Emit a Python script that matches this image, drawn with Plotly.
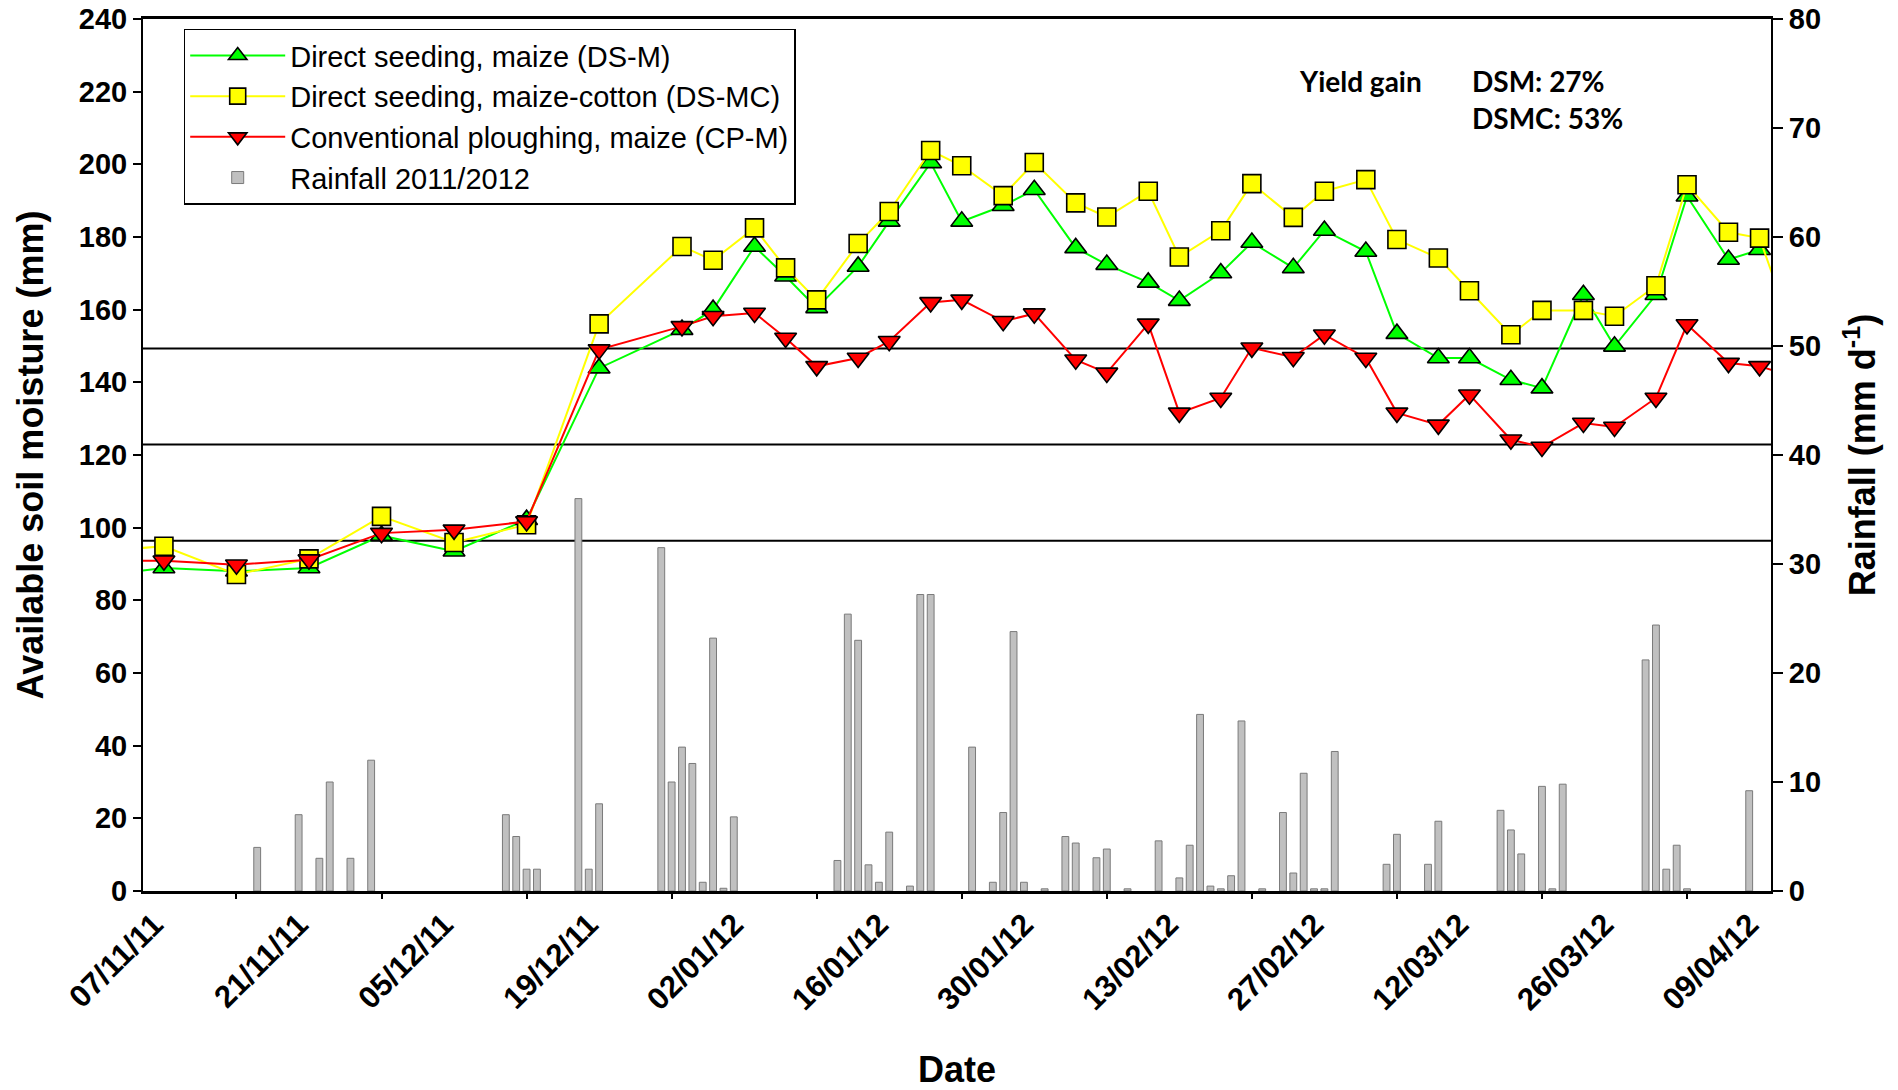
import plotly.graph_objects as go

# ---------------- data ----------------
dates = ["2011-10-31", "2011-11-07", "2011-11-14", "2011-11-21", "2011-11-28", "2011-12-05",
         "2011-12-12", "2011-12-19", "2011-12-27", "2011-12-30", "2012-01-03", "2012-01-06",
         "2012-01-09", "2012-01-13", "2012-01-16", "2012-01-20", "2012-01-23", "2012-01-27",
         "2012-01-30", "2012-02-03", "2012-02-06", "2012-02-10", "2012-02-13", "2012-02-17",
         "2012-02-20", "2012-02-24", "2012-02-27", "2012-03-02", "2012-03-05", "2012-03-09",
         "2012-03-12", "2012-03-16", "2012-03-19", "2012-03-23", "2012-03-26", "2012-03-30",
         "2012-04-02", "2012-04-06", "2012-04-09", "2012-04-13"]

ds_m = [86.5, 88.9, 88.0, 88.9, 97.8, 93.5, 102.2, 143.9, 154.5, 160.0, 177.4, 169.2,
        160.5, 171.9, 184.3, 200.4, 184.3, 188.6, 193.0, 177.0, 172.4, 167.5, 162.5, 170.1,
        178.5, 171.5, 181.8, 176.0, 153.4, 146.7, 146.7, 140.7, 138.4, 164.1, 149.9, 164.1,
        191.2, 173.8, 176.5, None]

ds_mc = [93.3, 94.9, 87.1, 91.4, 103.1, 95.9, 100.8, 156.1, 177.4, 173.6, 182.5, 171.5,
         162.7, 178.2, 187.0, 203.8, 199.6, 191.4, 200.5, 189.4, 185.5, 192.6, 174.5, 181.7,
         194.7, 185.4, 192.6, 195.8, 179.3, 174.2, 165.2, 153.1, 159.8, 159.8, 158.2, 166.6,
         194.4, 181.3, 179.7, 147.5]

cp_m = [90.9, 90.9, 89.8, 91.2, 98.5, 99.4, 101.7, 149.0, 155.4, 158.2, 159.1, 152.2,
        144.4, 146.7, 151.3, 162.0, 162.7, 156.8, 158.9, 146.2, 142.6, 156.1, 131.6, 135.7,
        149.5, 146.9, 153.1, 146.7, 131.6, 128.3, 136.6, 124.2, 122.2, 128.8, 127.7, 135.7,
        155.9, 145.3, 144.4, 141.0]

rain_dates = ["2011-11-16", "2011-11-20", "2011-11-22", "2011-11-23", "2011-11-25", "2011-11-27",
              "2011-12-10", "2011-12-11", "2011-12-12", "2011-12-13", "2011-12-17", "2011-12-18",
              "2011-12-19", "2011-12-25", "2011-12-26", "2011-12-27", "2011-12-28", "2011-12-29",
              "2011-12-30", "2011-12-31", "2012-01-01", "2012-01-11", "2012-01-12", "2012-01-13",
              "2012-01-14", "2012-01-15", "2012-01-16", "2012-01-18", "2012-01-19", "2012-01-20",
              "2012-01-24", "2012-01-26", "2012-01-27", "2012-01-28", "2012-01-29", "2012-01-31",
              "2012-02-02", "2012-02-03", "2012-02-05", "2012-02-06", "2012-02-08", "2012-02-11",
              "2012-02-13", "2012-02-14", "2012-02-15", "2012-02-16", "2012-02-17", "2012-02-18",
              "2012-02-19", "2012-02-21", "2012-02-23", "2012-02-24", "2012-02-25", "2012-02-26",
              "2012-02-27", "2012-02-28", "2012-03-04", "2012-03-05", "2012-03-08", "2012-03-09",
              "2012-03-15", "2012-03-16", "2012-03-17", "2012-03-19", "2012-03-20", "2012-03-21",
              "2012-03-29", "2012-03-30", "2012-03-31", "2012-04-01", "2012-04-02", "2012-04-08"]

rain_mm = [4.0, 7.0, 3.0, 10.0, 3.0, 12.0,
           7.0, 5.0, 2.0, 2.0, 36.0, 2.0,
           8.0, 31.5, 10.0, 13.2, 11.7, 0.8,
           23.2, 0.25, 6.8, 2.8, 25.4, 23.0,
           2.4, 0.8, 5.4, 0.45, 27.2, 27.2,
           13.2, 0.8, 7.2, 23.8, 0.8, 0.2,
           5.0, 4.4, 3.05, 3.85, 0.2, 4.6,
           1.2, 4.2, 16.2, 0.45, 0.2, 1.4,
           15.6, 0.2, 7.2, 1.65, 10.8, 0.2,
           0.2, 12.8, 2.45, 5.2, 2.45, 6.4,
           7.4, 5.6, 3.4, 9.6, 0.2, 9.8,
           21.2, 24.4, 2.0, 4.2, 0.2, 9.2]

ref_levels = [149.3, 122.9, 96.4]

tick_label_dates = ["2011-11-07", "2011-11-21", "2011-12-05", "2011-12-19", "2012-01-02",
                    "2012-01-16", "2012-01-30", "2012-02-13", "2012-02-27", "2012-03-12",
                    "2012-03-26", "2012-04-09"]
tick_labels = ["07/11/11", "21/11/11", "05/12/11", "19/12/11", "02/01/12", "16/01/12",
               "30/01/12", "13/02/12", "27/02/12", "12/03/12", "26/03/12", "09/04/12"]
tick_mark_dates = ["2011-11-14", "2011-11-28", "2011-12-12", "2011-12-26", "2012-01-09",
                   "2012-01-23", "2012-02-06", "2012-02-20", "2012-03-05", "2012-03-19",
                   "2012-04-02"]

# ---------------- figure ----------------
FONT = "Liberation Sans, Arial, sans-serif"

fig = go.Figure()

fig.add_trace(go.Bar(
    x=rain_dates, y=rain_mm, yaxis="y2", name="Rainfall 2011/2012",
    width=0.66 * 86400000,
    marker=dict(color="#c0c0c0", line=dict(color="#7a7a7a", width=1)),
    legendrank=4,
))

fig.add_trace(go.Scatter(
    x=dates, y=ds_m, name="Direct seeding, maize (DS-M)", mode="lines+markers",
    line=dict(color="#00ff00", width=2),
    marker=dict(symbol="triangle-up", size=19, color="#00ff00", line=dict(color="black", width=1.6)),
    legendrank=1,
))
fig.add_trace(go.Scatter(
    x=dates, y=ds_mc, name="Direct seeding, maize-cotton (DS-MC)", mode="lines+markers",
    line=dict(color="#ffff00", width=2),
    marker=dict(symbol="square", size=18, color="#ffff00", line=dict(color="black", width=1.6)),
    legendrank=2,
))
fig.add_trace(go.Scatter(
    x=dates, y=cp_m, name="Conventional ploughing, maize (CP-M)", mode="lines+markers",
    line=dict(color="#ff0000", width=2),
    marker=dict(symbol="triangle-down", size=19, color="#ff0000", line=dict(color="black", width=1.6)),
    legendrank=3,
))

shapes = []
for lv in ref_levels:
    shapes.append(dict(type="line", xref="x domain", x0=0, x1=1, yref="y", y0=lv, y1=lv,
                       line=dict(color="black", width=2), layer="below"))

ytickfont = dict(family=FONT, size=29, color="black", weight="bold")
xtickfont = dict(family=FONT, size=31, color="black", weight="bold")
titlefont = dict(family=FONT, size=36, color="black", weight="bold")
annfont = dict(family="Lato, Open Sans, sans-serif", size=28, color="black", weight="bold")

fig.update_layout(
    width=1898, height=1090,
    margin=dict(l=143, r=127, t=19, b=199, autoexpand=False),
    plot_bgcolor="white", paper_bgcolor="white",
    shapes=shapes,
    showlegend=True,
    legend=dict(
        x=0.025, y=0.989, xanchor="left", yanchor="top",
        bgcolor="white", bordercolor="black", borderwidth=1.5,
        font=dict(family=FONT, size=29, color="black"),
        itemwidth=95, tracegroupgap=0,
    ),
    xaxis=dict(
        type="date", automargin=False,
        range=["2011-11-04 23:30", "2012-04-10 02:30"],
        tickmode="array", tickvals=tick_label_dates, ticktext=tick_labels,
        tickangle=-45, ticks="", tickfont=xtickfont,
        ticklabelshift=-10, ticklabelstandoff=0,
        minor=dict(tickmode="array", tickvals=tick_mark_dates, ticks="outside",
                   ticklen=5, tickwidth=1.5, tickcolor="black", showgrid=False),
        showline=True, linecolor="black", linewidth=3, mirror=True,
        showgrid=False, zeroline=False,
        title=dict(text="Date", font=titlefont, standoff=56),
    ),
    yaxis=dict(
        automargin=False,
        range=[0, 240], tick0=0, dtick=20, ticks="outside", ticklen=8, tickwidth=2,
        tickcolor="black", tickfont=ytickfont,
        showline=True, linecolor="black", linewidth=2,
        showgrid=False, zeroline=False,
        title=dict(text="Available soil moisture (mm)", font=titlefont, standoff=24),
    ),
    yaxis2=dict(
        overlaying="y", side="right", automargin=False,
        range=[0, 80], tick0=0, dtick=10, ticks="outside", ticklen=10, tickwidth=2,
        tickcolor="black", tickfont=ytickfont,
        showline=True, linecolor="black", linewidth=2,
        showgrid=False, zeroline=False,
        title=dict(text="Rainfall (mm d<sup>-1</sup>)", font=titlefont, standoff=30),
    ),
    annotations=[
        dict(text="Yield gain", xref="paper", yref="paper", x=0.709, y=0.929,
             xanchor="left", yanchor="middle", showarrow=False, font=annfont),
        dict(text="DSM: 27%", xref="paper", yref="paper", x=0.815, y=0.929,
             xanchor="left", yanchor="middle", showarrow=False, font=annfont),
        dict(text="DSMC: 53%", xref="paper", yref="paper", x=0.815, y=0.886,
             xanchor="left", yanchor="middle", showarrow=False, font=annfont),
    ],
)

fig.write_html("out.html")
